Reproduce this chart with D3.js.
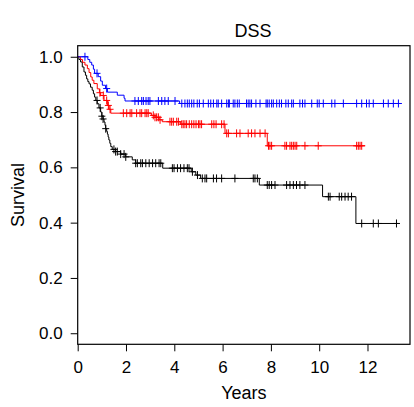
<!DOCTYPE html>
<html>
<head>
<meta charset="utf-8">
<script src="https://cdn.jsdelivr.net/npm/d3@7"></script>
<style>
	body { margin: 0; background: #fff; }
	text { font-family: "Liberation Sans", Arial, Helvetica, sans-serif; fill: #000; }
</style>
</head>
<body>
<div class="container"></div>
<script>

// blue group: event times (years), survival after each event, censored times
var blueTime = [0.42, 0.5, 0.58, 0.65, 0.7, 0.85, 0.95, 1.02, 1.15, 1.23, 1.64, 1.92, 1.96, 4.22];
var blueSurv = [0.99, 0.98, 0.97, 0.955, 0.94, 0.928, 0.912, 0.897, 0.885, 0.872, 0.861, 0.85, 0.84, 0.831];
var blueCens = [0.3, 0.8, 1.2, 2.37, 2.51, 2.65, 2.72, 2.83, 2.92, 2.99, 3.34, 3.48, 3.61, 3.75, 4.03,
	4.31, 4.44, 4.54, 4.62, 4.72, 4.81, 4.95, 5.04, 5.2, 5.41, 5.51, 5.62, 5.76, 5.82, 5.96, 6.17, 6.24, 6.28,
	6.44, 6.51, 6.61, 6.69, 6.99, 7.06, 7.13, 7.2, 7.38, 7.55, 7.8, 7.85, 7.93, 8.03, 8.1, 8.24, 8.35,
	8.44, 8.62, 8.72, 8.86, 8.93, 9.2, 9.31, 9.41, 9.69, 9.92, 10.0, 10.17, 10.52, 10.65, 11.0, 11.55,
	11.76, 11.96, 12.07, 12.24, 12.66, 12.86, 13.07, 13.28];
var blueEnd = 13.28;

// red group
var redTime = [0.12, 0.2, 0.3, 0.4, 0.47, 0.54, 0.6, 0.67, 0.81, 0.9, 0.95, 1.09, 1.23, 1.3, 1.37,
	3.05, 3.2, 3.37, 3.5, 4.25, 6.1, 7.85];
var redSurv = [0.99, 0.98, 0.97, 0.957, 0.943, 0.927, 0.915, 0.903, 0.884, 0.87, 0.86, 0.842, 0.824, 0.81, 0.796,
	0.788, 0.781, 0.772, 0.765, 0.756, 0.723, 0.678];
var redCens = [0.92, 1.06, 1.2, 1.27, 1.34, 1.89, 2.03, 2.17, 2.24, 2.44, 2.58, 2.65, 2.79, 2.86, 2.92,
	3.13, 3.2, 3.27, 3.34, 3.41, 3.82, 3.89, 3.96, 4.1, 4.17, 4.31, 4.37, 4.44, 4.51, 4.62, 4.72, 4.81,
	4.9, 5.0, 5.06, 5.13, 5.55, 5.64, 5.73, 5.96, 6.06, 6.17, 6.24, 6.58, 6.72, 7.06, 7.2, 7.34, 7.55,
	7.76, 7.9, 7.96, 8.03, 8.58, 8.65, 8.79, 8.86, 8.93, 9.0, 9.07, 9.41, 9.96, 11.55, 11.62, 11.69, 11.76];
var redEnd = 11.9;

// black group
var blackTime = [0.05, 0.12, 0.19, 0.26, 0.32, 0.37, 0.42, 0.47, 0.53, 0.6, 0.65, 0.7, 0.75, 0.81, 0.88,
	0.95, 1.0, 1.05, 1.09, 1.13, 1.16, 1.2, 1.23, 1.26, 1.29, 1.33, 1.37, 1.43, 1.57, 1.78, 1.99, 2.26,
	2.4, 3.52, 4.7, 4.89, 5.09, 7.52, 10.14, 11.52];
var blackSurv = [0.99, 0.981, 0.963, 0.945, 0.933, 0.92, 0.91, 0.902, 0.89, 0.879, 0.866, 0.854, 0.842, 0.83, 0.815,
	0.8, 0.785, 0.775, 0.764, 0.752, 0.74, 0.73, 0.72, 0.71, 0.699, 0.687, 0.675, 0.665, 0.657, 0.648, 0.638, 0.627,
	0.615, 0.597, 0.584, 0.572, 0.56, 0.536, 0.494, 0.397];
var blackCens = [0.8, 0.93, 1.0, 1.05, 1.16, 1.5, 1.57, 1.64, 1.78, 1.92, 1.99, 2.4, 2.47, 2.61, 2.68,
	2.82, 2.96, 3.1, 3.23, 3.37, 3.44, 3.92, 3.99, 4.13, 4.26, 4.4, 4.54, 4.61, 4.75, 4.96, 5.16, 5.27,
	5.34, 5.62, 5.75, 5.96, 6.51, 7.27, 7.34, 7.44, 7.85, 7.93, 8.03, 8.17, 8.65, 8.79, 8.93, 9.06, 9.2,
	9.41, 10.38, 10.45, 10.83, 10.93, 11.07, 11.2, 11.34, 11.76, 12.24, 12.45, 13.2];
var blackEnd = 13.28;

var xTicks = [0, 2, 4, 6, 8, 10, 12];
var yTicks = [0, 0.2, 0.4, 0.6, 0.8, 1.0];

var groups = [
	{time: blackTime, surv: blackSurv, cens: blackCens, end: blackEnd, color: '#000000'},
	{time: redTime, surv: redSurv, cens: redCens, end: redEnd, color: '#ff0000'},
	{time: blueTime, surv: blueSurv, cens: blueCens, end: blueEnd, color: '#0000ff'}
];

var width = 414, height = 407;
var plot = {left: 77.7, right: 410, top: 45.7, bottom: 344.3};

var x_scale = d3.scaleLinear().domain([0, 13.76]).range([plot.left, plot.right]);
var y_scale = d3.scaleLinear().domain([-0.04, 1.04]).range([plot.bottom, plot.top]);

var svg = d3.select('.container').append('svg')
	.attr('width', width)
	.attr('height', height);

// step value at time t
function survAt(g, t) {
	var s = 1;
	for (var i = 0; i < g.time.length; i++) {
		if (g.time[i] <= t) s = g.surv[i];
	}
	return s;
}

var lineFunction = d3.line()
	.x(function(d) { return x_scale(d[0]); })
	.y(function(d) { return y_scale(d[1]); })
	.curve(d3.curveStepAfter);

groups.forEach(function(g) {
	var pts = [[0, 1]];
	g.time.forEach(function(t, i) { pts.push([t, g.surv[i]]); });
	pts.push([g.end, g.surv[g.surv.length - 1]]);

	var grp = svg.append('g');
	grp.append('path')
		.attr('d', lineFunction(pts))
		.attr('fill', 'none')
		.attr('stroke', g.color)
		.attr('stroke-width', 1);

	// censor marks "+"
	grp.selectAll('path.cens')
		.data(g.cens)
		.enter()
		.append('path')
		.attr('class', 'cens')
		.attr('d', function(t) {
			var cx = x_scale(t), cy = y_scale(survAt(g, t));
			return 'M' + (cx - 3.5) + ',' + cy + 'H' + (cx + 3.5) +
				'M' + cx + ',' + (cy - 4) + 'V' + (cy + 4);
		})
		.attr('stroke', g.color)
		.attr('stroke-width', 1)
		.attr('fill', 'none');
});

// box
svg.append('rect')
	.attr('x', plot.left)
	.attr('y', plot.top)
	.attr('width', plot.right - plot.left)
	.attr('height', plot.bottom - plot.top)
	.attr('fill', 'none')
	.attr('stroke', '#000')
	.attr('stroke-width', 1.2);

var x_axis = d3.axisBottom(x_scale)
	.tickValues(xTicks)
	.tickSize(7)
	.tickPadding(10)
	.tickFormat(d3.format('d'));

var y_axis = d3.axisLeft(y_scale)
	.tickValues(yTicks)
	.tickSize(7)
	.tickPadding(8)
	.tickFormat(d3.format('.1f'));

var gx = svg.append('g')
	.attr('transform', 'translate(0,' + plot.bottom + ')')
	.call(x_axis);
gx.select('.domain').remove();
gx.selectAll('text').style('font-size', '17px').attr('fill', '#000');
gx.selectAll('line').attr('stroke', '#000');

var gy = svg.append('g')
	.attr('transform', 'translate(' + plot.left + ',0)')
	.call(y_axis);
gy.select('.domain').remove();
gy.selectAll('text').style('font-size', '17px').attr('fill', '#000');
gy.selectAll('line').attr('stroke', '#000');

// titles
svg.append('text')
	.attr('x', 253)
	.attr('y', 36.7)
	.attr('text-anchor', 'middle')
	.style('font-size', '18px')
	.text('DSS');

svg.append('text')
	.attr('x', (plot.left + plot.right) / 2)
	.attr('y', 399)
	.attr('text-anchor', 'middle')
	.style('font-size', '18px')
	.text('Years');

svg.append('text')
	.attr('transform', 'translate(24,' + ((plot.top + plot.bottom) / 2) + ') rotate(-90)')
	.attr('text-anchor', 'middle')
	.style('font-size', '18px')
	.text('Survival');

</script>
</body>
</html>
